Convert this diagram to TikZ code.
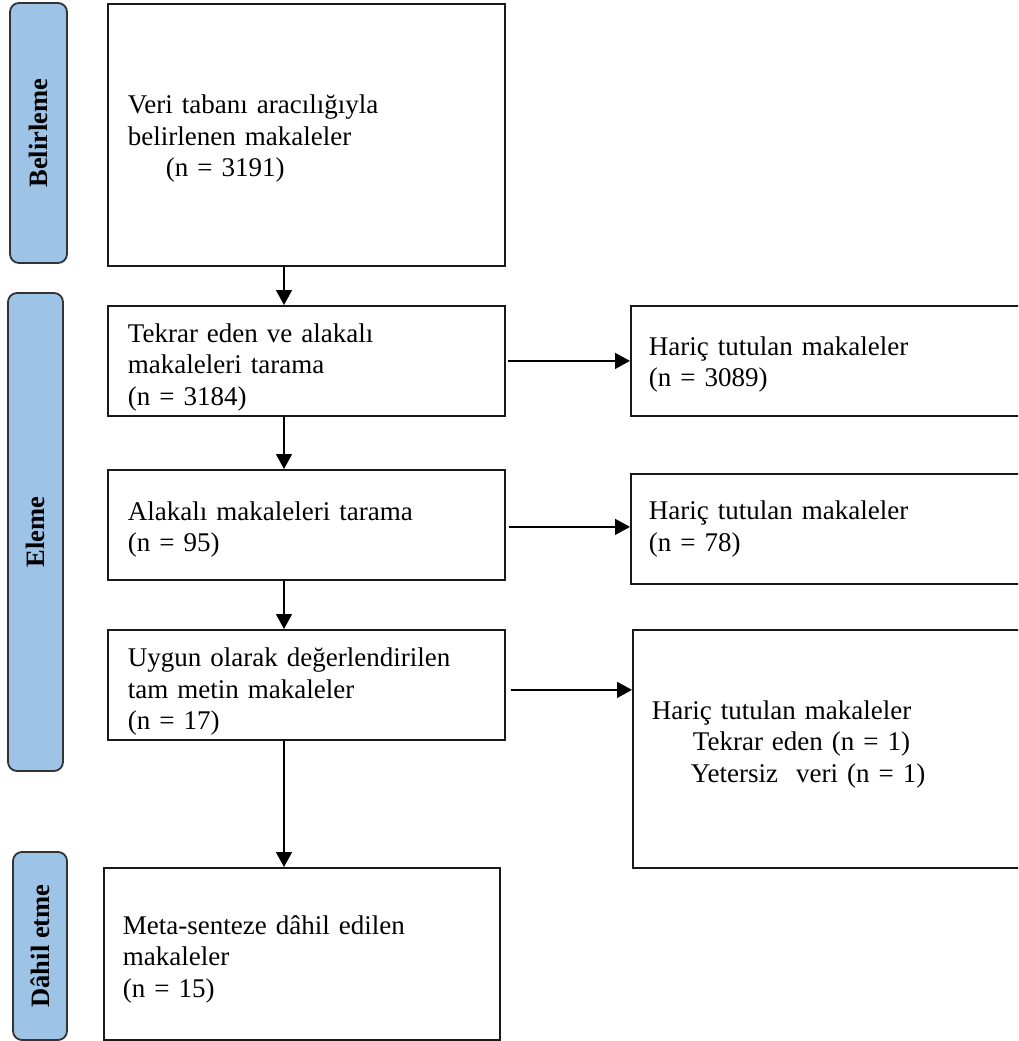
\documentclass[tikz,border=0pt]{standalone}
\usepackage{fontspec}
\setmainfont{Liberation Serif}
\usetikzlibrary{arrows.meta}
\definecolor{phaseblue}{HTML}{9DC3E6}

\tikzset{
  box/.style={draw=black!90, line width=1.8pt, anchor=north west, align=left,
    inner xsep=20pt, inner ysep=0pt, font=\fontsize{27}{31.5}\selectfont},
  phase/.style={draw=black!80, fill=phaseblue, line width=1.8pt, rounded corners=9pt,
    rotate=90, inner sep=0pt, font=\fontsize{26.5}{30}\selectfont\bfseries},
  flow/.style={line width=1.5pt, -{Triangle[length=15pt,width=16pt]}}
}

\begin{document}
\begin{tikzpicture}[x=1pt,y=-1pt]
        \useasboundingbox (0,0) rectangle (1018,1041);
        \clip (0,0) rectangle (1018,1041);

        % phases
        \node[phase, minimum width=260pt, minimum height=57pt] (belirleme) at (38.5,133) {Belirleme};
        \node[phase, minimum width=478pt, minimum height=55pt] (eleme) at (35.5,532) {Eleme};
        \node[phase, minimum width=188pt, minimum height=54pt] (dahil) at (40,946) {Dâhil etme};

        % main column
        \node[box, text width=357pt, minimum height=262pt] (b1) at (107,3)
          {\rule{0pt}{26pt}Veri tabanı aracılığıyla\\ belirlenen makaleler\\ \hspace*{38pt}(n = 3191)};
        \node[box, text width=357pt, minimum height=110pt] (b2) at (107,305)
          {\rule{0pt}{31pt}Tekrar eden ve alakalı\\ makaleleri tarama\\ (n = 3184)};
        \node[box, text width=357pt, minimum height=110pt] (b3) at (107,469)
          {\rule{0pt}{28pt}Alakalı makaleleri tarama\\ (n = 95)};
        \node[box, text width=357pt, minimum height=110pt] (b4) at (107,629)
          {\rule{0pt}{32pt}Uygun olarak değerlendirilen\\ tam metin makaleler\\ (n = 17)};
        \node[box, text width=358pt, inner xsep=19pt, minimum height=172pt] (b5) at (103,867)
          {\rule{0pt}{29pt}Meta-senteze dâhil edilen\\ makaleler\\ (n = 15)};

        % excluded
        \node[box, text width=384pt, inner xsep=18pt, minimum height=110pt] (r1) at (630,305)
          {\rule{0pt}{26pt}Hariç tutulan makaleler\\ (n = 3089)};
        \node[box, text width=384pt, inner xsep=18pt, minimum height=110pt] (r2) at (630,473)
          {Hariç tutulan makaleler\\ (n = 78)};
        \node[box, text width=382pt, inner xsep=19pt, minimum height=238pt] (r3) at (632,629)
          {Hariç tutulan makaleler\\ \hspace*{41pt}Tekrar eden (n = 1)\\
           \hspace*{39pt}Yetersiz\ \ veri (n = 1)\\[-16pt] \mbox{}};

        \coordinate (spine) at (284,0);
        \draw[flow] (b1.south -| spine) -- (b2.north -| spine);
        \draw[flow] (b2.south -| spine) -- (b3.north -| spine);
        \draw[flow] (b3.south -| spine) -- (b4.north -| spine);
        \draw[flow] (b4.south -| spine) -- (b5.north -| spine);

        \coordinate (o2) at ([xshift=2pt]b2.east);
        \coordinate (o3) at ([xshift=3pt,yshift=-2pt]b3.east);
        \coordinate (o4) at ([xshift=5pt,yshift=-5pt]b4.east);
        \draw[flow] (o2) -- (o2 -| r1.west);
        \draw[flow] (o3) -- (o3 -| r2.west);
        \draw[flow] (o4) -- (o4 -| r3.west);
\end{tikzpicture}
\end{document}
